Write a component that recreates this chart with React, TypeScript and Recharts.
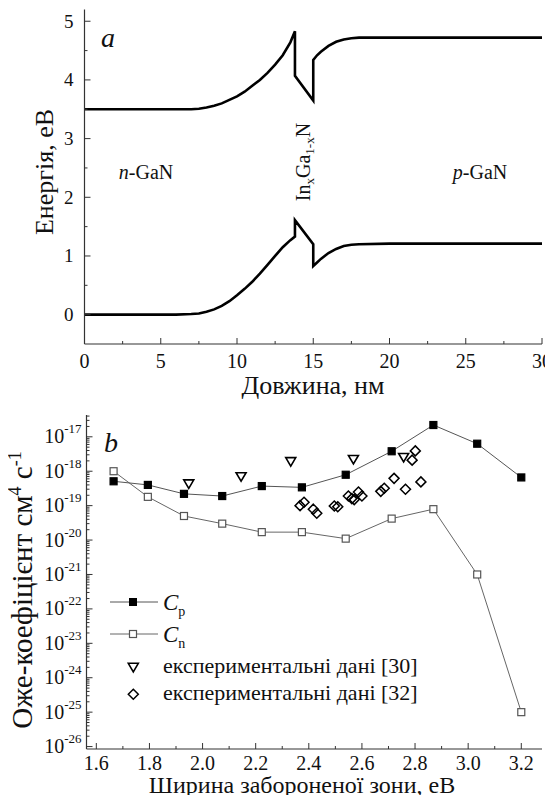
import React from "react";
import { ComposedChart, Line, Scatter, XAxis, YAxis, Legend } from "recharts";

const FONT = "Liberation Serif, DejaVu Serif, serif";
const INK = "#111";
const FRAME = "#333";
const TXT = { fontFamily: FONT };

// panel a: band diagram
const lengthNm = [0, 3, 6, 7, 7.5, 8, 8.5, 9, 9.5, 10, 10.5, 11, 11.5, 12, 12.5, 13, 13.5, 13.8, 13.8, 15, 15, 15.25, 15.5, 16, 16.5, 17, 17.5, 18, 20, 25, 30];
const conductionEv = [3.5, 3.5, 3.5, 3.5, 3.51, 3.53, 3.56, 3.6, 3.66, 3.72, 3.8, 3.9, 4.0, 4.12, 4.26, 4.42, 4.64, 4.83, 4.07, 3.65, 4.34, 4.42, 4.48, 4.58, 4.65, 4.69, 4.71, 4.72, 4.72, 4.72, 4.72];
const valenceEv = [0, 0, 0, 0.01, 0.02, 0.05, 0.09, 0.15, 0.23, 0.33, 0.44, 0.56, 0.7, 0.85, 1.0, 1.15, 1.27, 1.33, 1.61, 1.2, 0.83, 0.89, 0.95, 1.05, 1.12, 1.17, 1.19, 1.2, 1.21, 1.21, 1.21];

const lengthTicks = [0, 5, 10, 15, 20, 25, 30];
const lengthMinor = [2.5, 7.5, 12.5, 17.5, 22.5, 27.5];
const energyTicks = [0, 1, 2, 3, 4, 5];
const energyMinor = [0.5, 1.5, 2.5, 3.5, 4.5];

// panel b: Auger coefficients
const gapEv = [1.665, 1.794, 1.93, 2.074, 2.223, 2.374, 2.539, 2.712, 2.869, 3.034, 3.2];
const cp = [5.1e-19, 4.0e-19, 2.2e-19, 1.9e-19, 3.7e-19, 3.4e-19, 7.9e-19, 3.8e-18, 2.2e-17, 6.3e-18, 6.6e-19];
const cn = [1.0e-18, 1.8e-19, 5.0e-20, 3.0e-20, 1.7e-20, 1.7e-20, 1.1e-20, 4.2e-20, 7.9e-20, 1.0e-21, 1.0e-25];

const exp30Ev = [1.948, 2.145, 2.332, 2.568, 2.757];
const exp30 = [4.3e-19, 6.9e-19, 1.9e-18, 2.2e-18, 2.5e-18];

const exp32Ev = [2.367, 2.382, 2.417, 2.43, 2.496, 2.509, 2.549, 2.562, 2.571, 2.587, 2.6, 2.671, 2.684, 2.721, 2.764, 2.789, 2.801, 2.822];
const exp32 = [1.0e-19, 1.25e-19, 7.9e-20, 6.0e-20, 9.8e-20, 9.3e-20, 1.9e-19, 1.6e-19, 1.5e-19, 2.5e-19, 1.9e-19, 2.6e-19, 3.2e-19, 6.2e-19, 3.0e-19, 2.1e-18, 3.9e-18, 4.9e-19];

const gapTicks = [1.6, 1.8, 2.0, 2.2, 2.4, 2.6, 2.8, 3.0, 3.2];
const gapMinor = [1.7, 1.9, 2.1, 2.3, 2.5, 2.7, 2.9, 3.1];
const augerTicks = [1e-26, 1e-25, 1e-24, 1e-23, 1e-22, 1e-21, 1e-20, 1e-19, 1e-18, 1e-17];
const augerDomain = [8.5e-27, 4.3e-17];
const augerMinor: number[] = [];
augerTicks.forEach((d) => {
  for (let k = 2; k <= 9; k++) if (k * d < augerDomain[1]) augerMinor.push(k * d);
});

const bandRows = lengthNm.map((x, i) => ({ x, c: conductionEv[i], v: valenceEv[i] }));
const cpRows = gapEv.map((x, i) => ({ x, y: cp[i] }));
const cnRows = gapEv.map((x, i) => ({ x, y: cn[i] }));
const exp30Rows = exp30Ev.map((x, i) => ({ x, y: exp30[i] }));
const exp32Rows = exp32Ev.map((x, i) => ({ x, y: exp32[i] }));

type Side = "left" | "right" | "top" | "bottom";
const sameTick = (a: number, b: number) => Math.abs(a - b) <= Math.abs(b) * 1e-6 + 1e-300;

function makeTick(side: Side, majors: number[], label?: (v: number, x: number, y: number) => React.ReactNode) {
  return (props: any) => {
    const { x, y, payload } = props;
    const v = payload.value as number;
    const major = majors.some((m) => sameTick(v, m));
    const len = major ? 6 : 3;
    let x2 = x;
    let y2 = y;
    if (side === "left") x2 = x + len;
    if (side === "right") x2 = x - len;
    if (side === "bottom") y2 = y - len;
    if (side === "top") y2 = y + len;
    return (
      <g>
        <line x1={x} y1={y} x2={x2} y2={y2} stroke={FRAME} strokeWidth={1} />
        {major && label ? label(v, x, y) : null}
      </g>
    );
  };
}

const frameLine = { stroke: FRAME, strokeWidth: 1.2 };

const energyLabel = (v: number, x: number, y: number) => (
  <text x={x - 11} y={y + 6.5} textAnchor="end" fontSize={19} style={TXT} fill={INK}>
    {v}
  </text>
);
const lengthLabel = (v: number, x: number, y: number) => (
  <text x={x} y={y + 24} textAnchor="middle" fontSize={20} style={TXT} fill={INK}>
    {v}
  </text>
);
const gapLabel = (v: number, x: number, y: number) => (
  <text x={x} y={y + 21} textAnchor="middle" fontSize={20} style={TXT} fill={INK}>
    {v.toFixed(1)}
  </text>
);
const augerLabel = (v: number, x: number, y: number) => (
  <text x={x - 5} y={y + 6.5} textAnchor="end" style={TXT} fill={INK}>
    <tspan fontSize={20}>10</tspan>
    <tspan fontSize={13} dy={-10}>
      {Math.round(Math.log10(v))}
    </tspan>
  </text>
);

const squareDot = (filled: boolean) => (p: any) => {
  if (p.cx == null || p.cy == null) return <g key={p.key} />;
  return (
    <rect
      key={p.key}
      x={p.cx - 3.5}
      y={p.cy - 3.5}
      width={7}
      height={7}
      fill={filled ? "#000" : "#fff"}
      stroke={filled ? "#000" : "#555"}
      strokeWidth={1.2}
    />
  );
};

const downTriangle = (p: any) => (
  <polygon
    points={`${p.cx - 5},${p.cy - 4} ${p.cx + 5},${p.cy - 4} ${p.cx},${p.cy + 4.5}`}
    fill="#fff"
    stroke="#000"
    strokeWidth={1.6}
  />
);

const diamond = (p: any) => (
  <polygon
    points={`${p.cx},${p.cy - 5} ${p.cx + 5},${p.cy} ${p.cx},${p.cy + 5} ${p.cx - 5},${p.cy}`}
    fill="none"
    stroke="#000"
    strokeWidth={1.5}
  />
);

const AugerLegend = () => (
  <svg width={553} height={403} style={{ position: "absolute", left: 0, top: 0, fontFamily: FONT }}>
    <line x1={110} x2={158} y1={202} y2={202} stroke="#555" strokeWidth={1} />
    <rect x={129.5} y={198.5} width={7} height={7} fill="#000" stroke="#000" />
    <text x={163} y={209.5} fontSize={23} fill={INK}>
      <tspan fontStyle="italic">C</tspan>
      <tspan fontSize={14} dy={6}>p</tspan>
    </text>
    <line x1={110} x2={158} y1={234} y2={234} stroke="#666" strokeWidth={1} />
    <rect x={129.5} y={230.5} width={7} height={7} fill="#fff" stroke="#555" strokeWidth={1.2} />
    <text x={163} y={241.5} fontSize={23} fill={INK}>
      <tspan fontStyle="italic">C</tspan>
      <tspan fontSize={14} dy={6}>n</tspan>
    </text>
    <polygon points="128.3,263.3 138.3,263.3 133.3,271.8" fill="#fff" stroke="#000" strokeWidth={1.6} />
    <text x={163} y={273} fontSize={22} fill={INK}>
      експериментальні дані [30]
    </text>
    <polygon points="133.3,289.3 138.3,294.3 133.3,299.3 128.3,294.3" fill="none" stroke="#000" strokeWidth={1.5} />
    <text x={163} y={299.5} fontSize={22} fill={INK}>
      експериментальні дані [32]
    </text>
  </svg>
);

const BandPanel = () => (
  <div style={{ position: "absolute", left: 0, top: 0, width: 553, height: 400 }}>
    <ComposedChart width={553} height={400} data={bandRows} margin={{ top: 9.5, right: 11, left: 0, bottom: 0 }}>
      <XAxis
        dataKey="x"
        type="number"
        domain={[0, 30]}
        allowDataOverflow
        ticks={[...lengthTicks, ...lengthMinor].sort((a, b) => a - b)}
        interval={0}
        tickSize={0}
        tickMargin={0}
        tickLine={false}
        axisLine={frameLine}
        tick={makeTick("bottom", lengthTicks, lengthLabel)}
        height={56}
      />
      <XAxis
        xAxisId="top"
        orientation="top"
        dataKey="x"
        type="number"
        domain={[0, 30]}
        allowDataOverflow
        ticks={[...lengthTicks, ...lengthMinor].sort((a, b) => a - b)}
        interval={0}
        tickSize={0}
        tickMargin={0}
        tickLine={false}
        axisLine={frameLine}
        tick={makeTick("top", lengthTicks)}
        height={0}
      />
      <YAxis
        type="number"
        domain={[-0.5, 5.2]}
        allowDataOverflow
        ticks={[...energyTicks, ...energyMinor].sort((a, b) => a - b)}
        interval={0}
        tickSize={0}
        tickMargin={0}
        tickLine={false}
        axisLine={frameLine}
        tick={makeTick("left", energyTicks, energyLabel)}
        width={84.5}
      />
      <YAxis
        yAxisId="right"
        orientation="right"
        type="number"
        domain={[-0.5, 5.2]}
        allowDataOverflow
        ticks={[...energyTicks, ...energyMinor].sort((a, b) => a - b)}
        interval={0}
        tickSize={0}
        tickMargin={0}
        tickLine={false}
        axisLine={frameLine}
        tick={makeTick("right", energyTicks)}
        width={0}
      />
      <Line dataKey="c" type="linear" stroke="#000" strokeWidth={2.6} dot={false} isAnimationActive={false} />
      <Line dataKey="v" type="linear" stroke="#000" strokeWidth={2.6} dot={false} isAnimationActive={false} />
    </ComposedChart>
    <svg width={553} height={400} style={{ position: "absolute", left: 0, top: 0, pointerEvents: "none", fontFamily: FONT }} fill={INK}>
      <text x={108} y={47} fontSize={28} fontStyle="italic" textAnchor="middle">a</text>
      <text x={146} y={179} fontSize={20} textAnchor="middle">
        <tspan fontStyle="italic">n</tspan>-GaN
      </text>
      <text x={480} y={179} fontSize={20} textAnchor="middle">
        <tspan fontStyle="italic">p</tspan>-GaN
      </text>
      <text transform="translate(310,162) rotate(-90)" fontSize={20} textAnchor="middle">
        In<tspan fontSize={13} dy={4}>x</tspan>
        <tspan dy={-4}>Ga</tspan>
        <tspan fontSize={13} dy={4}>1-x</tspan>
        <tspan dy={-4}>N</tspan>
      </text>
      <text x={313} y={394} fontSize={26} textAnchor="middle">Довжина, нм</text>
      <text transform="translate(53,172) rotate(-90)" fontSize={26} textAnchor="middle">Енергія, еВ</text>
    </svg>
  </div>
);

const AugerPanel = () => (
  <div style={{ position: "absolute", left: 0, top: 400, width: 553, height: 403 }}>
    <ComposedChart width={553} height={403} margin={{ top: 15, right: 11, left: 0, bottom: 0 }}>
      <XAxis
        dataKey="x"
        type="number"
        domain={[1.563, 3.278]}
        allowDataOverflow
        ticks={[...gapTicks, ...gapMinor].sort((a, b) => a - b)}
        interval={0}
        tickSize={0}
        tickMargin={0}
        tickLine={false}
        axisLine={frameLine}
        tick={makeTick("bottom", gapTicks, gapLabel)}
        height={54}
      />
      <XAxis
        xAxisId="top"
        orientation="top"
        dataKey="x"
        type="number"
        domain={[1.563, 3.278]}
        allowDataOverflow
        ticks={[...gapTicks, ...gapMinor].sort((a, b) => a - b)}
        interval={0}
        tickSize={0}
        tickMargin={0}
        tickLine={false}
        axisLine={frameLine}
        tick={makeTick("top", gapTicks)}
        height={0}
      />
      <YAxis
        type="number"
        scale="log"
        domain={augerDomain}
        allowDataOverflow
        ticks={[...augerTicks, ...augerMinor].sort((a, b) => a - b)}
        interval={0}
        tickSize={0}
        tickMargin={0}
        tickLine={false}
        axisLine={frameLine}
        tick={makeTick("left", augerTicks, augerLabel)}
        width={86.5}
      />
      <YAxis
        yAxisId="right"
        orientation="right"
        type="number"
        scale="log"
        domain={augerDomain}
        allowDataOverflow
        ticks={[...augerTicks, ...augerMinor].sort((a, b) => a - b)}
        interval={0}
        tickSize={0}
        tickMargin={0}
        tickLine={false}
        axisLine={frameLine}
        tick={makeTick("right", augerTicks)}
        width={0}
      />
      <Line data={cnRows} dataKey="y" type="linear" stroke="#666" strokeWidth={1} dot={squareDot(false)} isAnimationActive={false} />
      <Line data={cpRows} dataKey="y" type="linear" stroke="#555" strokeWidth={1} dot={squareDot(true)} isAnimationActive={false} />
      <Scatter data={exp30Rows} dataKey="y" shape={downTriangle} isAnimationActive={false} />
      <Scatter data={exp32Rows} dataKey="y" shape={diamond} isAnimationActive={false} />
      <Legend
        layout="vertical"
        align="center"
        verticalAlign="middle"
        content={() => <AugerLegend />}
        wrapperStyle={{ left: 0, top: 0, width: 553, height: 403, pointerEvents: "none" }}
      />
    </ComposedChart>
    <svg width={553} height={403} style={{ position: "absolute", left: 0, top: 0, pointerEvents: "none", fontFamily: FONT }} fill={INK}>
      <text x={111} y={52} fontSize={28} fontStyle="italic" textAnchor="middle">b</text>
      <text x={302} y={393} fontSize={24} textAnchor="middle">Ширина забороненої зони, еВ</text>
      <text transform="translate(32,190) rotate(-90)" fontSize={29} textAnchor="middle">
        Оже-коефіцієнт см<tspan fontSize={18} dy={-11}>4</tspan>
        <tspan dy={11}> с</tspan>
        <tspan fontSize={18} dy={-11}>-1</tspan>
      </text>
    </svg>
  </div>
);

export default function App() {
  return (
    <div style={{ position: "relative", width: 553, height: 803, margin: -8, background: "#fff", fontFamily: FONT }}>
      <BandPanel />
      <AugerPanel />
    </div>
  );
}
